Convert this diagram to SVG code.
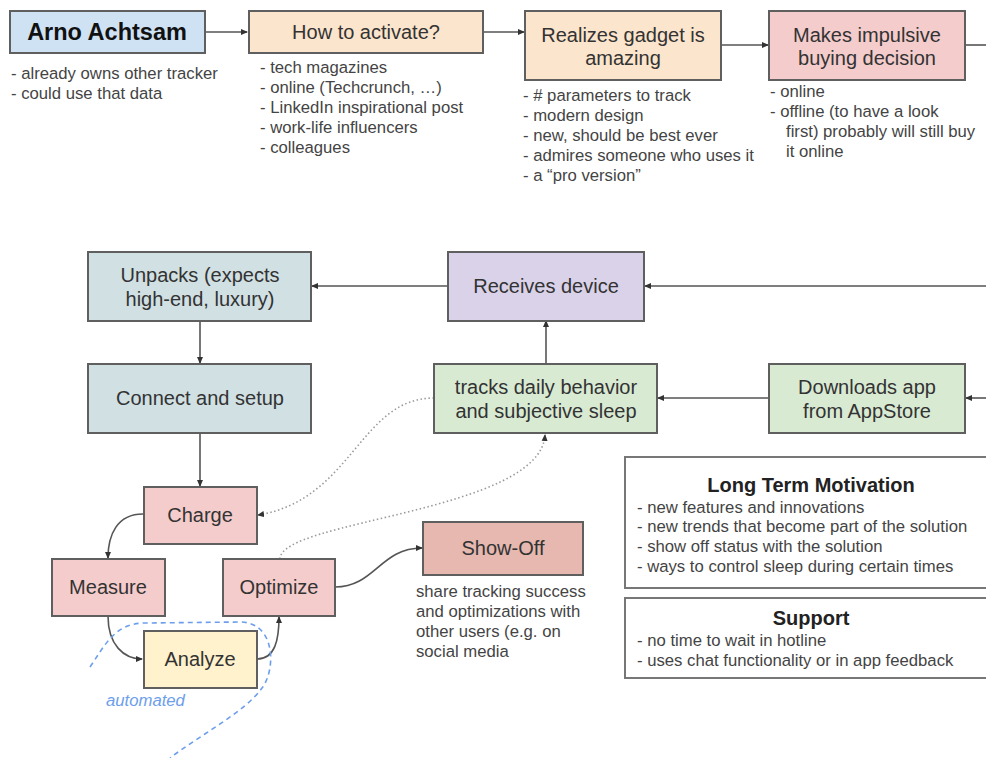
<svg xmlns="http://www.w3.org/2000/svg" width="986" height="758" viewBox="0 0 986 758">
<style>
  .box { stroke: #5f5f5f; stroke-width: 2; }
  .lbl { font-family: "Liberation Sans", Arial, sans-serif; font-size: 20px; fill: #333333; text-anchor: middle; }
  .note { font-family: "Liberation Sans", Arial, sans-serif; font-size: 16.7px; fill: #444444; }
  .ttl { font-family: "Liberation Sans", Arial, sans-serif; font-size: 20px; font-weight: bold; fill: #222222; text-anchor: middle; }
  .conn { fill: none; stroke: #555555; stroke-width: 1.6; }
  .dot { fill: none; stroke: #9a9a9a; stroke-width: 1.6; stroke-dasharray: 1.5 2.5; }
  .blue { fill: none; stroke: #6d9eeb; stroke-width: 1.6; stroke-dasharray: 5 4; }
</style>
<defs>
  <marker id="ah" markerWidth="8" markerHeight="8" refX="6" refY="4" orient="auto" markerUnits="userSpaceOnUse">
    <path d="M0,1 L7,4 L0,7 z" fill="#333333"/>
  </marker>
</defs>
<rect x="0" y="0" width="986" height="758" fill="#ffffff"/>

<g id="connectors">
  <line class="conn" x1="205" y1="32" x2="247" y2="32" marker-end="url(#ah)"/>
  <line class="conn" x1="483" y1="32" x2="524" y2="32" marker-end="url(#ah)"/>
  <line class="conn" x1="721" y1="45" x2="768" y2="45" marker-end="url(#ah)"/>
  <line class="conn" x1="965" y1="45" x2="986" y2="45"/>
  <line class="conn" x1="986" y1="286" x2="645" y2="286" marker-end="url(#ah)"/>
  <line class="conn" x1="448" y1="286" x2="312" y2="286" marker-end="url(#ah)"/>
  <line class="conn" x1="200" y1="321" x2="200" y2="363" marker-end="url(#ah)"/>
  <line class="conn" x1="200" y1="433" x2="200" y2="486" marker-end="url(#ah)"/>
  <line class="conn" x1="546" y1="364" x2="546" y2="321" marker-end="url(#ah)"/>
  <line class="conn" x1="986" y1="398" x2="966" y2="398" marker-end="url(#ah)"/>
  <line class="conn" x1="769" y1="398" x2="658" y2="398" marker-end="url(#ah)"/>
  <path class="conn" d="M143,514 C117,514 108,535 108,558" marker-end="url(#ah)"/>
  <path class="conn" d="M108,616 C108,645 124,659 142,659" marker-end="url(#ah)"/>
  <path class="conn" d="M257,659 C275,659 279,640 279,617" marker-end="url(#ah)"/>
  <path class="conn" d="M335,587 C375,587 380,548 422,548" marker-end="url(#ah)"/>
  <path class="dot" d="M434,398 C360,398 352,500 258,515" marker-end="url(#ah)"/>
  <path class="dot" d="M280,559 C280,520 540,512 545,435" marker-end="url(#ah)"/>
  <path class="blue" d="M90,667 C105,645 115,623 145,623 L240,622 C276,622 276,670 262,688 C245,712 200,735 170,758"/>
</g>

<g id="arno">
  <rect class="box" x="10" y="11" width="195" height="42" fill="#cfe2f3"/>
  <text x="107" y="40" font-family="Liberation Sans, Arial, sans-serif" font-size="23.5" font-weight="bold" fill="#111111" text-anchor="middle">Arno Achtsam</text>
  <text class="note" x="11" y="79">- already owns other tracker</text>
  <text class="note" x="11" y="99">- could use that data</text>
</g>

<g id="activate">
  <rect class="box" x="249" y="11" width="234" height="42" fill="#fce5cd"/>
  <text class="lbl" x="366" y="39">How to activate?</text>
  <text class="note" x="260" y="73">- tech magazines</text>
  <text class="note" x="260" y="93">- online (Techcrunch, …)</text>
  <text class="note" x="260" y="113">- LinkedIn inspirational post</text>
  <text class="note" x="260" y="133">- work-life influencers</text>
  <text class="note" x="260" y="153">- colleagues</text>
</g>

<g id="realizes">
  <rect class="box" x="525" y="11" width="196" height="69" fill="#fce5cd"/>
  <text class="lbl" x="623" y="42">Realizes gadget is</text>
  <text class="lbl" x="623" y="65">amazing</text>
  <text class="note" x="523" y="101">- # parameters to track</text>
  <text class="note" x="523" y="121">- modern design</text>
  <text class="note" x="523" y="141">- new, should be best ever</text>
  <text class="note" x="523" y="161">- admires someone who uses it</text>
  <text class="note" x="523" y="181">- a “pro version”</text>
</g>

<g id="buying">
  <rect class="box" x="769" y="11" width="196" height="69" fill="#f4cccc"/>
  <text class="lbl" x="867" y="42">Makes impulsive</text>
  <text class="lbl" x="867" y="65">buying decision</text>
  <text class="note" x="770" y="97">- online</text>
  <text class="note" x="770" y="117">- offline (to have a look</text>
  <text class="note" x="786" y="137">first) probably will still buy</text>
  <text class="note" x="786" y="157">it online</text>
</g>

<g id="unpacks">
  <rect class="box" x="88" y="252" width="223" height="69" fill="#d0e0e3"/>
  <text class="lbl" x="200" y="282">Unpacks (expects</text>
  <text class="lbl" x="200" y="306">high-end, luxury)</text>
</g>

<g id="receives">
  <rect class="box" x="448" y="252" width="196" height="69" fill="#d9d2e9"/>
  <text class="lbl" x="546" y="293">Receives device</text>
</g>

<g id="connect">
  <rect class="box" x="88" y="364" width="223" height="69" fill="#d0e0e3"/>
  <text class="lbl" x="200" y="405">Connect and setup</text>
</g>

<g id="tracks">
  <rect class="box" x="434" y="364" width="223" height="69" fill="#d9ead3"/>
  <text class="lbl" x="546" y="394">tracks daily behavior</text>
  <text class="lbl" x="546" y="418">and subjective sleep</text>
</g>

<g id="downloads">
  <rect class="box" x="769" y="364" width="196" height="69" fill="#d9ead3"/>
  <text class="lbl" x="867" y="394">Downloads app</text>
  <text class="lbl" x="867" y="418">from AppStore</text>
</g>

<g id="charge">
  <rect class="box" x="144" y="487" width="113" height="57" fill="#f4cccc"/>
  <text class="lbl" x="200" y="522">Charge</text>
</g>

<g id="measure">
  <rect class="box" x="52" y="559" width="113" height="57" fill="#f4cccc"/>
  <text class="lbl" x="108" y="594">Measure</text>
</g>

<g id="optimize">
  <rect class="box" x="223" y="559" width="112" height="57" fill="#f4cccc"/>
  <text class="lbl" x="279" y="594">Optimize</text>
</g>

<g id="analyze">
  <rect class="box" x="144" y="631" width="113" height="57" fill="#fff2cc"/>
  <text class="lbl" x="200" y="666">Analyze</text>
</g>

<g id="automated">
  <text x="106" y="706" font-family="Liberation Sans, Arial, sans-serif" font-size="16.7" font-style="italic" fill="#6d9eeb">automated</text>
</g>

<g id="showoff">
  <rect class="box" x="423" y="522" width="160" height="53" fill="#e6b8af"/>
  <text class="lbl" x="503" y="555">Show-Off</text>
  <text class="note" x="416" y="597">share tracking success</text>
  <text class="note" x="416" y="617">and optimizations with</text>
  <text class="note" x="416" y="637">other users (e.g. on</text>
  <text class="note" x="416" y="657">social media</text>
</g>

<g id="motivation">
  <rect x="625" y="457" width="372" height="131" fill="#ffffff" stroke="#777777" stroke-width="2"/>
  <text class="ttl" x="811" y="492">Long Term Motivation</text>
  <text class="note" x="637" y="513">- new features and innovations</text>
  <text class="note" x="637" y="532">- new trends that become part of the solution</text>
  <text class="note" x="637" y="552">- show off status with the solution</text>
  <text class="note" x="637" y="572">- ways to control sleep during certain times</text>
</g>

<g id="support">
  <rect x="625" y="598" width="372" height="80" fill="#ffffff" stroke="#777777" stroke-width="2"/>
  <text class="ttl" x="811" y="625">Support</text>
  <text class="note" x="637" y="646">- no time to wait in hotline</text>
  <text class="note" x="637" y="666">- uses chat functionality or in app feedback</text>
</g>
</svg>
